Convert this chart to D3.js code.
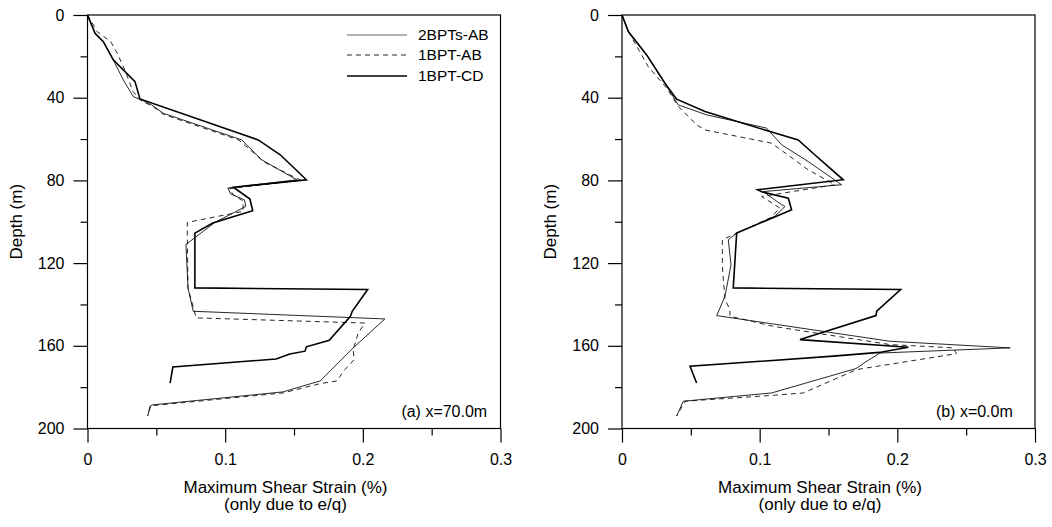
<!DOCTYPE html>
<html>
<head>
<meta charset="utf-8">
<title>Maximum shear strain vs depth</title>
<script src="https://cdn.jsdelivr.net/npm/d3@7"></script>
<style>
  body { margin: 0; background: #fff; }
  svg text { font-family: "Liberation Sans", Arial, sans-serif; fill: #000; }
</style>
</head>
<body>
<svg id="chart" width="1052" height="527"></svg>
<script>

// labels
var seriesNames = ["2BPTs-AB", "1BPT-AB", "1BPT-CD"];
var panelLabels = ["(a) x=70.0m", "(b) x=0.0m"];
var xTicks = [0, 0.1, 0.2, 0.3];
var xMinor = [0.05, 0.15, 0.25];
var yTicks = [0, 40, 80, 120, 160, 200];
var yMinor = [20, 60, 100, 140, 180];

// values: [strain (%), depth (m)]
// panel (a) x=70.0m
var ab2A = [[0,0],[0.0055,8.9],[0.0115,12.9],[0.0187,21.7],[0.026,31.4],[0.0333,39.5],[0.039,41],
  [0.0466,43.5],[0.055,47.5],[0.112,60.4],[0.1265,70],[0.152,79.7],[0.102,83.7],[0.104,86.6],
  [0.114,89.4],[0.115,92.6],[0.0926,100.3],[0.0715,111],[0.073,132],[0.0768,143.3],[0.216,147],
  [0.193,161],[0.169,177],[0.142,182.3],[0.047,188.6],[0.0454,189.2],[0.0437,194]];
var ab1A = [[0,0],[0.007,8],[0.017,13],[0.022,19],[0.028,28],[0.033,37],[0.039,41.5],[0.047,44],
  [0.055,48],[0.11,60.5],[0.128,71],[0.155,80],[0.103,84],[0.106,87],[0.113,90],[0.113,95],
  [0.0725,100.3],[0.0725,106],[0.073,132],[0.0775,143],[0.079,146.5],[0.2015,149],[0.1967,153.8],
  [0.193,161.8],[0.1937,166.7],[0.187,171.5],[0.181,177],[0.169,178.3],[0.142,182.8],[0.046,189],
  [0.0437,194]];
var cdA = [[0,0],[0.0055,8.9],[0.0115,12.9],[0.0187,21.7],[0.0345,32.2],[0.0381,40.6],[0.124,60.4],
  [0.14,67.6],[0.159,79.7],[0.106,83.3],[0.118,89],[0.12,94.7],[0.091,100.6],[0.078,105.5],
  [0.078,132],[0.2035,132.8],[0.1923,143.3],[0.191,145.7],[0.1756,157.3],[0.159,160.5],
  [0.158,162.6],[0.147,164],[0.137,166.4],[0.062,170.2],[0.06,178]];

// panel (b) x=0.0m
var ab2B = [[0,0],[0.0046,8],[0.0179,19.3],[0.0312,33],[0.0409,43.5],[0.0615,48.3],[0.105,54.7],
  [0.116,62.8],[0.1353,70.9],[0.1595,82.1],[0.1026,85.4],[0.116,91.8],[0.1184,92.6],[0.111,97.4],
  [0.0833,105.5],[0.0772,108.7],[0.0792,120.8],[0.0748,136],[0.0688,145.4],[0.1946,157.8],
  [0.282,161],[0.1874,163.5],[0.1765,168],[0.17,171],[0.1087,182.8],[0.0445,186.8],[0.0397,194]];
var ab1B = [[0,0],[0.0046,8],[0.0191,25],[0.0325,35.4],[0.041,44.3],[0.0542,53.1],[0.0603,55.6],
  [0.1087,62],[0.117,66],[0.1353,74.9],[0.1547,82.1],[0.1015,87.8],[0.1147,93.4],[0.108,98],
  [0.0729,108.7],[0.0729,121.5],[0.0748,137.6],[0.0784,142.5],[0.0784,145.7],[0.11,150.6],
  [0.1946,159.4],[0.2406,161],[0.243,163.8],[0.1704,171.5],[0.1317,182.8],[0.1087,184],
  [0.0458,186.8],[0.0397,194]];
var cdB = [[0,0],[0.0046,8],[0.0179,19.3],[0.0312,33],[0.0397,40.7],[0.0603,46.7],[0.1075,56.4],
  [0.128,60.4],[0.14,67.6],[0.1607,79.7],[0.0985,84.5],[0.1015,85.5],[0.1208,88.6],[0.1232,94.2],
  [0.0833,105.5],[0.0808,132],[0.2024,132.8],[0.185,143.3],[0.1845,145.4],[0.1293,157],
  [0.208,160.7],[0.187,163.2],[0.1535,165],[0.0494,169.9],[0.0542,178]];

// line look per series
var lineStyle = {
  "2BPTs-AB": { width: 0.9, dash: null, color: "#111" },
  "1BPT-AB":  { width: 0.9, dash: "5,4", color: "#111" },
  "1BPT-CD":  { width: 1.6, dash: null, color: "#000" }
};

var svg = d3.select("#chart");
var plotW = 413, plotH = 413.5, plotTop = 15;

var x = d3.scaleLinear().domain([0, 0.3]).range([0, plotW]);
var y = d3.scaleLinear().domain([0, 200]).range([0, plotH]);

var line = d3.line()
  .x(function(d) { return x(d[0]); })
  .y(function(d) { return y(d[1]); });

function drawPanel(panelLeft, series, label, withLegend) {
  var g = svg.append("g").attr("transform", "translate(" + panelLeft + "," + plotTop + ")");

  // axes: major + minor ticks, outward
  var yMajor = g.append("g").call(d3.axisLeft(y).tickValues(yTicks).tickSize(14).tickSizeOuter(0).tickPadding(9));
  var yMin = g.append("g").call(d3.axisLeft(y).tickValues(yMinor).tickSize(7).tickSizeOuter(0).tickFormat(""));
  var xMajor = g.append("g").attr("transform", "translate(0," + plotH + ")")
    .call(d3.axisBottom(x).tickValues(xTicks).tickSize(14).tickSizeOuter(0).tickPadding(11)
      .tickFormat(function(d) { return d === 0 ? "0" : d3.format(".1f")(d); }));
  var xMin = g.append("g").attr("transform", "translate(0," + plotH + ")")
    .call(d3.axisBottom(x).tickValues(xMinor).tickSize(7).tickSizeOuter(0).tickFormat(""));

  [yMajor, yMin, xMajor, xMin].forEach(function(a) {
    a.select(".domain").remove();
    a.selectAll("line").attr("stroke", "#000").attr("stroke-width", 1.2);
    a.selectAll("text").style("font-size", "16px").attr("fill", "#000");
  });

  // frame
  g.append("rect")
    .attr("x", 0).attr("y", 0).attr("width", plotW).attr("height", plotH)
    .attr("fill", "none").attr("stroke", "#000").attr("stroke-width", 1.2);

  // curves
  series.forEach(function(s) {
    var st = lineStyle[s.name];
    g.append("path")
      .datum(s.values)
      .attr("d", line)
      .attr("fill", "none")
      .attr("stroke", st.color)
      .attr("stroke-width", st.width)
      .attr("stroke-dasharray", st.dash)
      .attr("stroke-linejoin", "miter");
  });

  // panel label
  g.append("text")
    .attr("x", x(0.228)).attr("y", 402)
    .style("font-size", "16px")
    .text(label);

  // axis titles
  g.append("text")
    .attr("text-anchor", "middle")
    .attr("x", 198).attr("y", 478)
    .style("font-size", "17px")
    .text("Maximum Shear Strain (%)");
  g.append("text")
    .attr("text-anchor", "middle")
    .attr("x", 198).attr("y", 495)
    .style("font-size", "17px")
    .text("(only due to e/q)");
  g.append("text")
    .attr("text-anchor", "middle")
    .attr("transform", "translate(-66," + (plotH / 2) + ") rotate(-90)")
    .style("font-size", "17px")
    .text("Depth (m)");

  if (withLegend) {
    var lg = g.append("g").attr("transform", "translate(259.5,20)");
    seriesNames.forEach(function(name, i) {
      var st = lineStyle[name];
      var row = lg.append("g").attr("transform", "translate(0," + [0, 20, 41][i] + ")");
      row.append("line")
        .attr("x1", 0).attr("x2", 60).attr("y1", 0).attr("y2", 0)
        .attr("stroke", name === "2BPTs-AB" ? "#555" : st.color)
        .attr("stroke-width", st.width)
        .attr("stroke-dasharray", st.dash);
      row.append("text")
        .attr("x", 71).attr("y", 0).attr("dy", "0.35em")
        .style("font-size", "15.5px")
        .text(name);
    });
  }
}

drawPanel(87.5, [
  { name: "2BPTs-AB", values: ab2A },
  { name: "1BPT-AB", values: ab1A },
  { name: "1BPT-CD", values: cdA }
], panelLabels[0], true);

drawPanel(622, [
  { name: "2BPTs-AB", values: ab2B },
  { name: "1BPT-AB", values: ab1B },
  { name: "1BPT-CD", values: cdB }
], panelLabels[1], false);

</script>
</body>
</html>
